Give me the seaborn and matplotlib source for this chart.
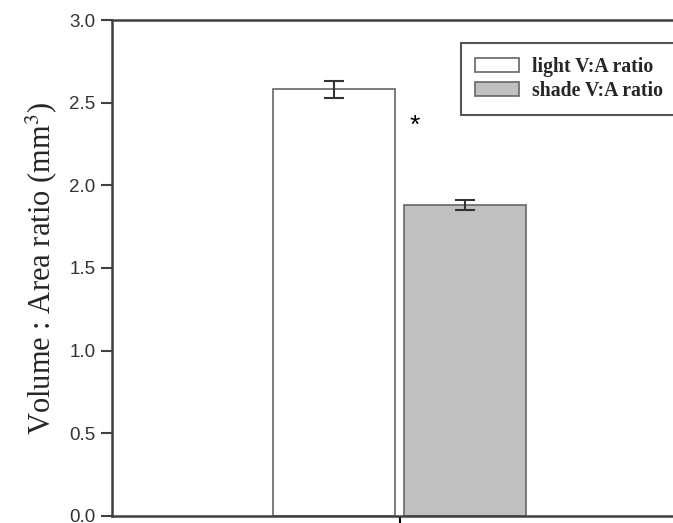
import numpy as np
import pandas as pd
import matplotlib
matplotlib.use('Agg')
import matplotlib.pyplot as plt
import seaborn as sns

# data
groups = ['all', 'all']
series = ['light V:A ratio', 'shade V:A ratio']
means = [2.58, 1.88]
errors = [0.05, 0.03]
yticks = [0.0, 0.5, 1.0, 1.5, 2.0, 2.5, 3.0]

df = pd.DataFrame({'group': groups, 'series': series, 'mean': means, 'err': errors})

sns.set_style('ticks')
serif = ['Liberation Serif', 'DejaVu Serif']
sans = ['Liberation Sans', 'DejaVu Sans']

fig = plt.figure(figsize=(6.73, 5.23), dpi=100)
ax = fig.add_axes([112 / 673, 7 / 523, 575 / 673, 496 / 523])

sns.barplot(data=df, x='group', y='mean', hue='series', palette=['white', '#c0c0c0'],
            width=0.91, gap=0.07, edgecolor='#666666', linewidth=1.2, errorbar=None,
            ax=ax, legend=True)

# error bars on bar centres
for patch, (_, row) in zip(ax.patches, df.iterrows()):
    cx = patch.get_x() + patch.get_width() / 2
    ax.errorbar(cx, row['mean'], yerr=row['err'], fmt='none', ecolor='#333333',
                elinewidth=1.5, capsize=7, capthick=1.5)

# significance star between the bars
ax.text(0.053, 2.36, '*', ha='center', va='center', fontsize=19,
        family=sans, color='black')

ax.set_xlim(-1, 1)
ax.set_ylim(0, 3.0)
ax.set_yticks(yticks)
ax.set_yticklabels([f'{v:.1f}' for v in yticks], family=sans, fontsize=13.5, color='#333333')
ax.set_xticks([0])
ax.set_xticklabels([''])
ax.set_xlabel('')
ax.set_ylabel('Volume : Area ratio (mm$^3$)', family=serif, fontsize=22, labelpad=7)
ax.yaxis.label.set_math_fontfamily('stix')

for s in ax.spines.values():
    s.set_visible(True)
    s.set_color('#404040')
    s.set_linewidth(1.8)
ax.tick_params(axis='y', direction='out', length=8, width=1.5, color='#404040', pad=4)
ax.tick_params(axis='x', direction='out', length=7, width=1.5, color='black')

handles, labels = ax.get_legend_handles_labels()
leg = ax.legend(handles, labels, loc='upper left', bbox_to_anchor=(461 / 673, 1 - 43 / 523),
                bbox_transform=fig.transFigure, borderaxespad=0, fancybox=False,
                framealpha=1, edgecolor='#555555', handlelength=2.25, handleheight=0.75,
                handletextpad=0.65, borderpad=0.7, labelspacing=0.2,
                prop={'family': serif, 'weight': 'bold', 'size': 14.2})
leg.get_frame().set_linewidth(1.5)

fig.savefig('out.png', dpi=100)
